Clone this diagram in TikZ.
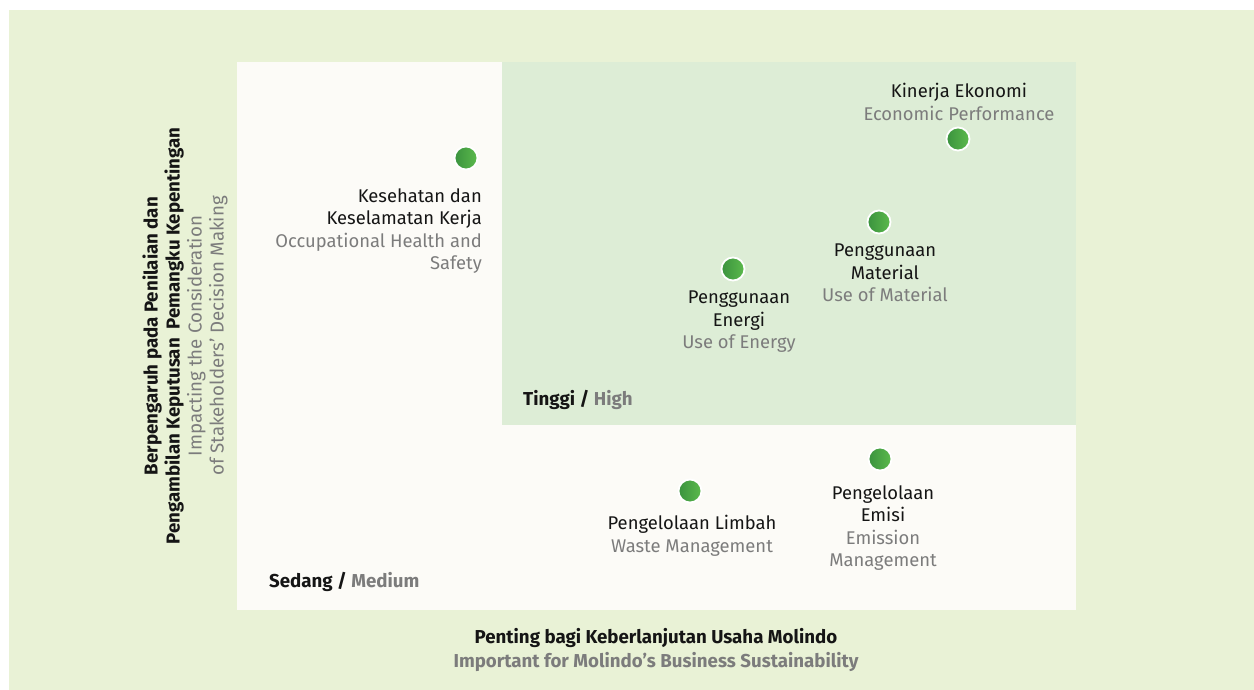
\documentclass[tikz,border=0pt]{standalone}
\usepackage{fontspec}
\setmainfont{Fira Sans}
\definecolor{bggreen}{HTML}{E9F2D6}
\definecolor{plotwhite}{HTML}{FCFBF7}
\definecolor{higgreen}{HTML}{DDEDD6}
\definecolor{dotdark}{HTML}{3A923E}
\definecolor{dotlight}{HTML}{5CBA4C}
\definecolor{txtgray}{HTML}{7C7C7C}
\definecolor{txtblack}{HTML}{151515}
\begin{document}
\begin{tikzpicture}[x=1pt,y=-1pt,
  lbl/.style={inner sep=0pt,font=\fontsize{18.4}{22.5}\selectfont,text=txtblack},
  axl/.style={inner sep=0pt,font=\fontsize{18.7}{24}\selectfont\bfseries,text=txtblack},
  dot/.style={circle,minimum size=23pt,inner sep=0pt,draw=white,line width=1.8pt,left color=dotdark,right color=dotlight}]
\useasboundingbox (0,0) rectangle (1254,690);
\fill[white] (0,0) rectangle (1254,690);
\fill[bggreen] (9,10) rectangle (1254,690);
\fill[plotwhite] (237,62) rectangle (1076,610);
\fill[higgreen] (502,62) rectangle (1076,425);

% dots
\node[dot] (d1) at (466,158) {};
\node[dot] (d2) at (958,139) {};
\node[dot] (d3) at (879,222) {};
\node[dot] (d4) at (733,269) {};
\node[dot] (d5) at (690,491) {};
\node[dot] (d6) at (880,459) {};

% labels
\node[lbl,anchor=north east,align=right] (l1) at (482,188) {Kesehatan dan\\Keselamatan Kerja\\\textcolor{txtgray}{Occupational Health and}\\\textcolor{txtgray}{Safety}};
\node[lbl,anchor=north,align=center] (l2) at (959,83) {Kinerja Ekonomi\\\textcolor{txtgray}{Economic Performance}};
\node[lbl,anchor=north,align=center] (l3) at (885,244) {Penggunaan\\Material\\\textcolor{txtgray}{Use of Material}};
\node[lbl,anchor=north,align=center] (l4) at (739,291) {Penggunaan\\Energi\\\textcolor{txtgray}{Use of Energy}};
\node[lbl,anchor=north,align=center] (l5) at (692,515) {Pengelolaan Limbah\\\textcolor{txtgray}{Waste Management}};
\node[lbl,anchor=north,align=center] (l6) at (883,485) {Pengelolaan\\Emisi\\\textcolor{txtgray}{Emission}\\\textcolor{txtgray}{Management}};

% quadrant labels
\node[axl,anchor=west] (q1) at (523,400) {Tinggi / \textcolor{txtgray}{High}};
\node[axl,anchor=west] (q2) at (269,582) {Sedang / \textcolor{txtgray}{Medium}};

% axis labels
\node[axl,align=center] (xa) at (656,650) {Penting bagi Keberlanjutan Usaha Molindo\\\textcolor{txtgray}{Important for Molindo’s Business Sustainability}};
\node[lbl,align=center,rotate=90,font=\fontsize{18.7}{22}\selectfont] (ya) at (185,336) {\textbf{Berpengaruh pada Penilaian dan}\\\textbf{Pengambilan Keputusan\ \ Pemangku Kepentingan}\\\textcolor{txtgray}{Impacting the Consideration}\\\textcolor{txtgray}{of Stakeholders’ Decision Making}};
\end{tikzpicture}
\end{document}
